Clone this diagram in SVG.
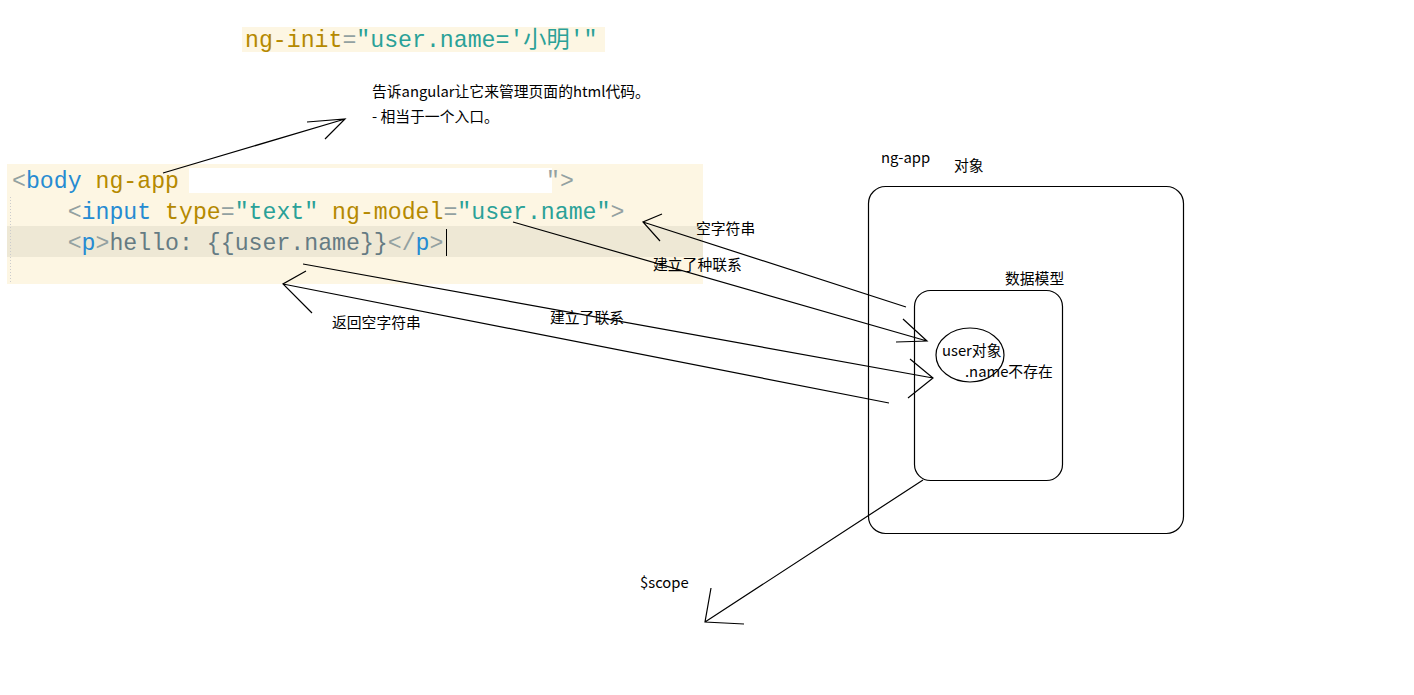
<svg xmlns="http://www.w3.org/2000/svg" width="1414" height="695" viewBox="0 0 1414 695">
<style>
.code{font-family:"Liberation Mono","DejaVu Sans Mono","Noto Sans CJK SC",monospace;font-size:23.2px;}
.g{fill:#93a1a1}.b{fill:#268bd2}.y{fill:#b58900}.t{fill:#2aa198}.d{fill:#657b83}
.lbl{font-family:"Noto Sans CJK SC","Noto Sans",sans-serif;font-size:14.8px;fill:#000}
.ln{stroke:#000;stroke-width:1.2;fill:none}
.box{stroke:#000;stroke-width:1.2;fill:none}
</style>
<rect width="1414" height="695" fill="#fff"/>
<g id="ng-init">
<rect x="242" y="27" width="363" height="25" fill="#fdf6e3"/>
<text class="code" x="245" y="47"><tspan class="y">ng-init</tspan><tspan class="g">=</tspan><tspan class="t">"user.name='小明'"</tspan></text>
</g>
<g id="code">
<rect x="7" y="164" width="696" height="120" fill="#fdf6e3"/>
<rect x="7" y="226" width="696" height="31" fill="#eee8d5"/>
<line x1="10.5" y1="197" x2="10.5" y2="284" stroke="#ccc" stroke-dasharray="1,2"/>
<rect x="189" y="168" width="363" height="25" fill="#fff"/>
<text class="code" x="12" y="188"><tspan class="g">&lt;</tspan><tspan class="b">body</tspan><tspan class="y"> ng-app</tspan></text>
<text class="code g" x="546" y="188">"&gt;</text>
<text class="code" x="12" y="219" xml:space="preserve"><tspan class="g">    &lt;</tspan><tspan class="b">input</tspan><tspan class="y"> type</tspan><tspan class="g">=</tspan><tspan class="t">"text"</tspan><tspan class="y"> ng-model</tspan><tspan class="g">=</tspan><tspan class="t">"user.name"</tspan><tspan class="g">&gt;</tspan></text>
<text class="code" x="12" y="250" xml:space="preserve"><tspan class="g">    &lt;</tspan><tspan class="b">p</tspan><tspan class="g">&gt;</tspan><tspan class="d">hello: {{user.name}}</tspan><tspan class="g">&lt;/</tspan><tspan class="b">p</tspan><tspan class="g">&gt;</tspan></text>
<line x1="446.5" y1="229" x2="446.5" y2="256" stroke="#000" stroke-width="1"/>
</g>
<g id="annotation">
<text class="lbl" x="372" y="97">告诉angular让它来管理页面的html代码。</text>
<text class="lbl" x="372" y="122">- 相当于一个入口。</text>
</g>
<g id="ng-app-box">
<rect class="box" x="868.5" y="186.5" width="315" height="347" rx="17"/>
<text class="lbl" x="881" y="163">ng-app</text>
<text class="lbl" x="954" y="171">对象</text>
</g>
<g id="data-model">
<rect class="box" x="914.5" y="290.5" width="148" height="190" rx="16"/>
<text class="lbl" x="1005" y="284">数据模型</text>
</g>
<g id="user-obj">
<ellipse class="box" cx="970" cy="355" rx="34" ry="27"/>
<text class="lbl" x="942" y="356">user对象</text>
<text class="lbl" x="965" y="377">.name不存在</text>
</g>
<g id="labels">
<text class="lbl" x="696" y="234">空字符串</text>
<text class="lbl" x="653" y="270">建立了种联系</text>
<text class="lbl" x="332" y="328">返回空字符串</text>
<text class="lbl" x="550" y="323">建立了联系</text>
<text class="lbl" x="640" y="588">$scope</text>
</g>
<g id="connectors">
<path class="ln" d="M163 173 L345 119 M307 122 L345 119 L325 139"/>
<path class="ln" d="M906 307 L643 222 M662 214 L643 222 L660 241"/>
<path class="ln" d="M513 222 L927 341 M903 319 L927 341 L896 342"/>
<path class="ln" d="M303 264 L933 378 M910 359 L933 378 L908 398"/>
<path class="ln" d="M889 403 L283 284 M306 271 L283 284 L312 313"/>
<path class="ln" d="M923 480 L705 622 M711 588 L705 622 L744 624"/>
</g>
</svg>
